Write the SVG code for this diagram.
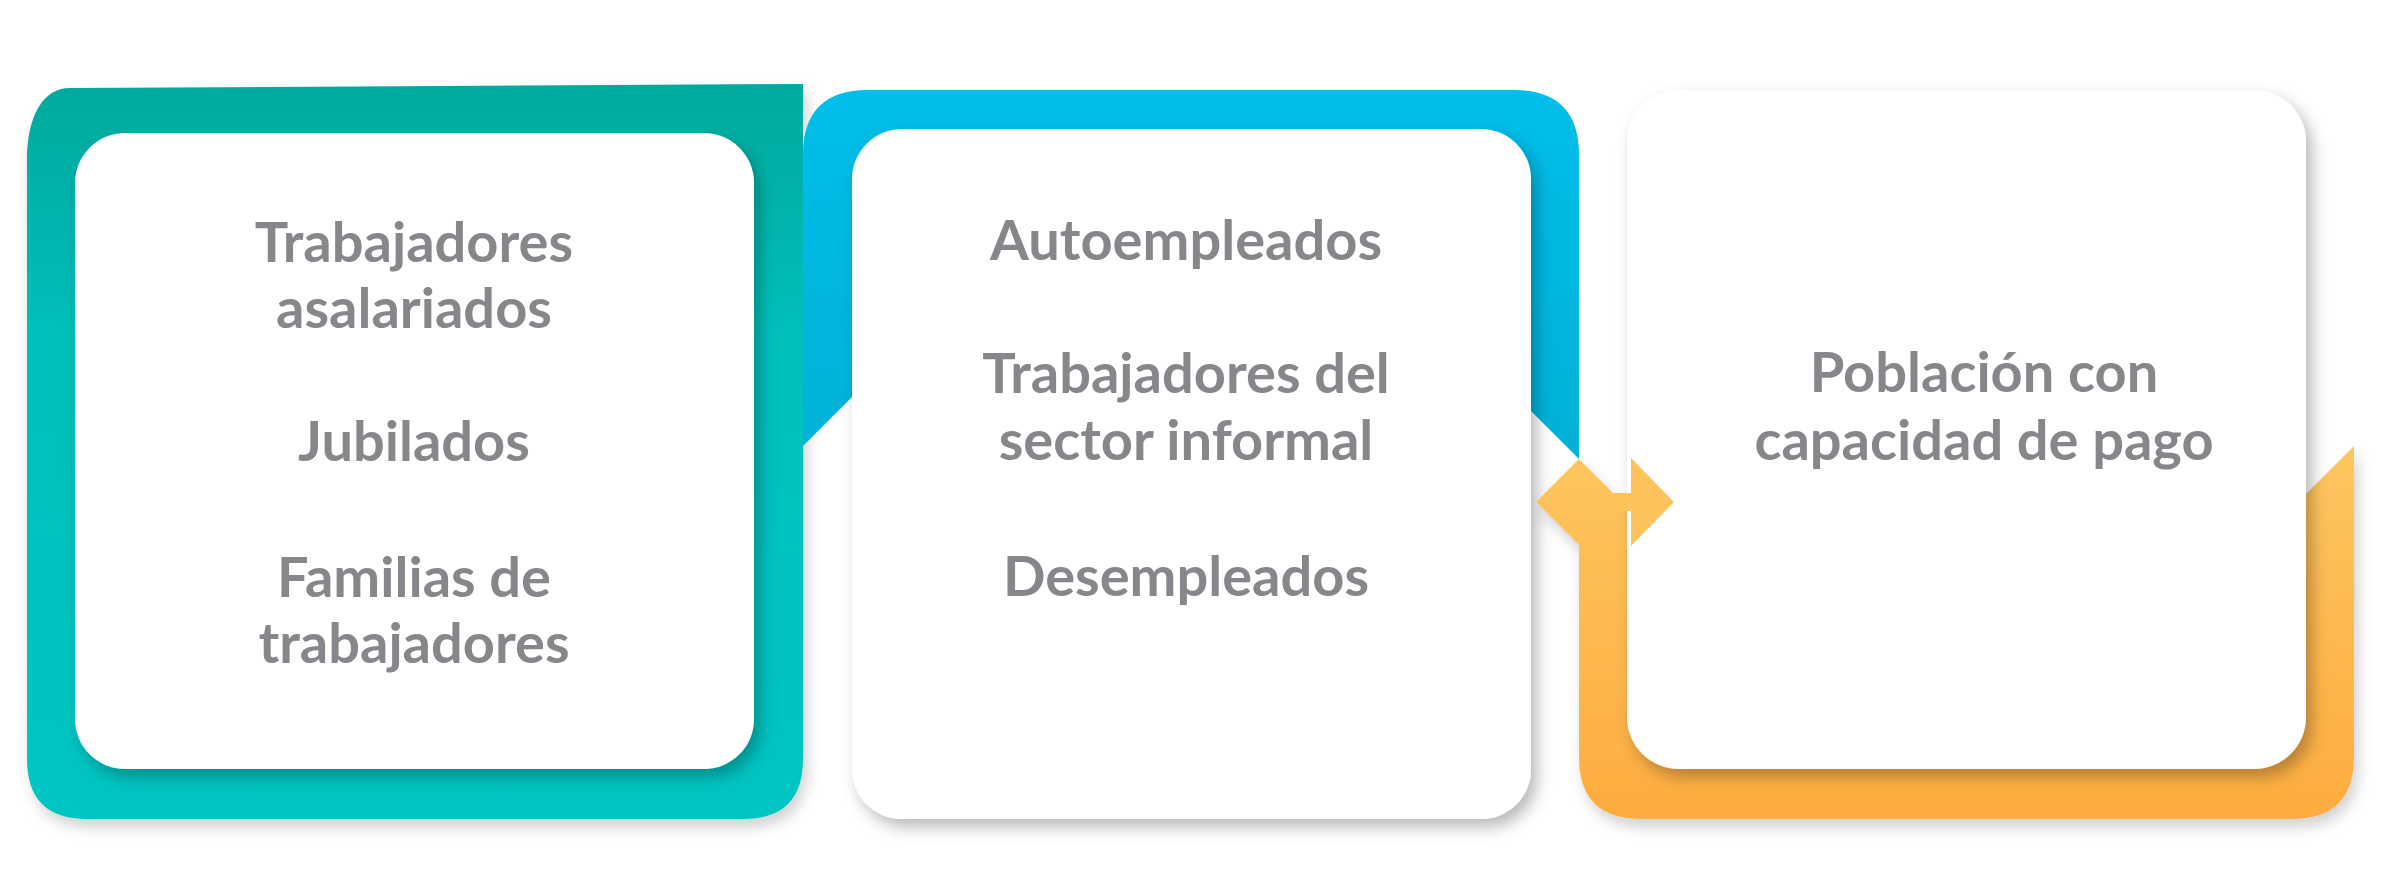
<svg xmlns="http://www.w3.org/2000/svg" width="2394" height="894" viewBox="0 0 2394 894">
<style>
.t{font-family:Lato,"Open Sans",sans-serif;font-weight:700;font-size:56px;fill:#87868b;text-anchor:middle}
.card{fill:#ffffff}
</style>
<defs>
<linearGradient id="gTeal" x1="0" y1="0" x2="0" y2="1">
<stop offset="0" stop-color="#00a99d"/>
<stop offset="0.35" stop-color="#00c0bb"/>
<stop offset="1" stop-color="#03c5c2"/>
</linearGradient>
<linearGradient id="gBlue" x1="0" y1="0" x2="0" y2="1">
<stop offset="0" stop-color="#00beea"/>
<stop offset="1" stop-color="#00b1d6"/>
</linearGradient>
<linearGradient id="gOrange" x1="0" y1="0" x2="0" y2="1">
<stop offset="0" stop-color="#fec660"/>
<stop offset="1" stop-color="#fdac40"/>
</linearGradient>
<linearGradient id="gArrow" x1="0" y1="0" x2="1" y2="0">
<stop offset="0" stop-color="#fec25c"/>
<stop offset="1" stop-color="#fec35e"/>
</linearGradient>
<filter id="sh" x="-10%" y="-10%" width="125%" height="125%">
<feDropShadow dx="6" dy="8" stdDeviation="8" flood-color="#000" flood-opacity="0.28"/>
</filter>
<filter id="sh2" x="-10%" y="-10%" width="125%" height="125%">
<feDropShadow dx="4" dy="8" stdDeviation="7" flood-color="#000" flood-opacity="0.18"/>
</filter>
</defs>
<rect width="2394" height="894" fill="#ffffff"/>

<g id="node-teal">
<path d="M27,165 C26,118 42,88 70,88 L803,84 L803,759 Q803,819 743,819 L87,819 Q27,819 27,759 Z" fill="url(#gTeal)" filter="url(#sh2)"/>
<rect class="card" x="75" y="133" width="679" height="636" rx="50" filter="url(#sh)"/>
<text class="t" x="414" y="262">Trabajadores</text>
<text class="t" x="414" y="328">asalariados</text>
<text class="t" x="414" y="461">Jubilados</text>
<text class="t" x="414" y="597">Familias de</text>
<text class="t" x="414" y="663">trabajadores</text>
</g>

<g id="node-blue">
<path d="M803,446 L803,155 Q803,90 868,90 L1514,90 Q1579,90 1579,155 L1579,459 L1531,411 L852,411 L852,397 Z" fill="url(#gBlue)"/>
<rect class="card" x="852" y="129" width="679" height="690" rx="50" filter="url(#sh)"/>
<text class="t" x="1186" y="260">Autoempleados</text>
<text class="t" x="1186" y="393">Trabajadores del</text>
<text class="t" x="1186" y="460">sector informal</text>
<text class="t" x="1186" y="596">Desempleados</text>
</g>

<g id="node-orange">
<path d="M1536,502 L1579,459 L1627,507 L1627,700 L2306,700 L2306,494 L2354,446 L2354,757 Q2354,819 2292,819 L1641,819 Q1579,819 1579,757 L1579,545 Z" fill="url(#gOrange)" filter="url(#sh2)"/>
<rect class="card" x="1627" y="90" width="679" height="679" rx="52" filter="url(#sh)"/>
<text class="t" x="1984" y="392">Población con</text>
<text class="t" x="1984" y="460">capacidad de pago</text>
</g>

<g id="connectors">
<polygon points="1613,493 1631,493 1631,458 1674,502 1631,546 1631,511 1613,511" fill="url(#gArrow)"/>
</g>
</svg>
